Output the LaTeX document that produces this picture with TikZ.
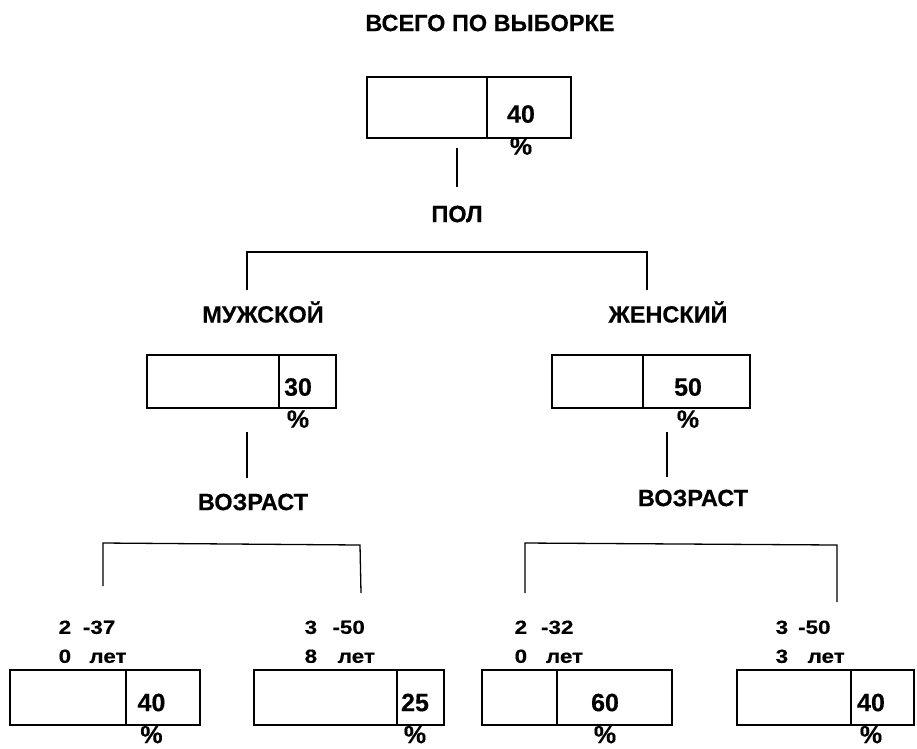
\documentclass[tikz,border=0pt]{standalone}
\usepackage{fontspec}
\usepackage{graphicx}
\setmainfont{Liberation Sans}[BoldFeatures={FakeBold=0.4}]
\begin{document}
\begin{tikzpicture}[x=1pt,y=-1pt,line width=1.3pt,
  cell/.style={draw,inner sep=0pt},
  lbl/.style={font=\fontsize{23.5}{28}\selectfont\bfseries},
  pct/.style={inner sep=0pt,align=center,font=\fontsize{25}{32}\selectfont\bfseries},
  age/.style={anchor=west,inner sep=0pt,font=\fontsize{19}{29}\selectfont\bfseries}]
  \useasboundingbox (0,0) rectangle (917,748);

  \node[lbl] (all) at (490,23) {ВСЕГО ПО ВЫБОРКЕ};
  \node[cell,minimum width=120,minimum height=61] (t1) at (427,107.5) {};
  \node[cell,minimum width=84,minimum height=61] (t2) at (529,107.5) {};
  \node[pct] (tp) at (521,130) {40\\\%};

  \coordinate (v0a) at (457,148);
  \coordinate (v0b) at (457,187);
  \draw (v0a) -- (v0b);
  \node[lbl] (pol) at (457,214) {ПОЛ};

  \coordinate (s1) at (247,290);
  \coordinate (s2) at (247,252);
  \coordinate (s3) at (647,252);
  \coordinate (s4) at (647,290);
  \draw (s1) -- (s2) -- (s3) -- (s4);

  \node[lbl] (male) at (263,312) {МУЖСКОЙ};
  \node[lbl] (female) at (668,312) {ЖЕНСКИЙ};

  \node[cell,minimum width=132,minimum height=53] (m1) at (213,381.5) {};
  \node[cell,minimum width=57,minimum height=53] (m2) at (307.5,381.5) {};
  \node[pct] (mp) at (298,403) {30\\\%};
  \node[cell,minimum width=91,minimum height=53] (f1) at (597.5,381.5) {};
  \node[cell,minimum width=107,minimum height=53] (f2) at (696.5,381.5) {};
  \node[pct] (fp) at (688,403) {50\\\%};

  \coordinate (vma) at (247,432);
  \coordinate (vmb) at (247,478);
  \draw (vma) -- (vmb);
  \coordinate (vfa) at (667,432);
  \coordinate (vfb) at (667,477);
  \draw (vfa) -- (vfb);
  \node[lbl] (mage) at (253,502) {ВОЗРАСТ};
  \node[lbl] (fage) at (693,498) {ВОЗРАСТ};

  \coordinate (ma1) at (103,586);
  \coordinate (ma2) at (103,543);
  \coordinate (ma3) at (360,545);
  \coordinate (ma4) at (361,593);
  \draw (ma1) -- (ma2) -- (ma3) -- (ma4);
  \coordinate (fa1) at (525,593);
  \coordinate (fa2) at (525,543);
  \coordinate (fa3) at (837,545);
  \coordinate (fa4) at (837,602);
  \draw (fa1) -- (fa2) -- (fa3) -- (fa4);

  % age groups
  \node[age] (g1) at (58,642.5) {\scalebox{1.18}[1]{\begin{tabular}{@{}l@{\hspace{10pt}}l@{}}2&-37\\0&\hspace{5.5pt}лет\end{tabular}}};
  \node[age] (g2) at (304,642.5) {\scalebox{1.18}[1]{\begin{tabular}{@{}l@{\hspace{13pt}}l@{}}3&-50\\8&\hspace{4.5pt}лет\end{tabular}}};
  \node[age] (g3) at (514,642.5) {\scalebox{1.18}[1]{\begin{tabular}{@{}l@{\hspace{11.8pt}}l@{}}2&-32\\0&\hspace{4.2pt}лет\end{tabular}}};
  \node[age] (g4) at (775,642.5) {\scalebox{1.18}[1]{\begin{tabular}{@{}l@{\hspace{8.5pt}}l@{}}3&-50\\3&\hspace{8pt}лет\end{tabular}}};

  \node[cell,minimum width=116,minimum height=55] (b1) at (68,697.5) {};
  \node[cell,minimum width=74,minimum height=55] (b1r) at (163,697.5) {};
  \node[pct] (bp1) at (151.5,718.5) {40\\\%};
  \node[cell,minimum width=143,minimum height=55] (b2) at (325.5,697.5) {};
  \node[cell,minimum width=47,minimum height=55] (b2r) at (420.5,697.5) {};
  \node[pct] (bp2) at (415,718.5) {25\\\%};
  \node[cell,minimum width=75,minimum height=55] (b3) at (519.5,697.5) {};
  \node[cell,minimum width=115,minimum height=55] (b3r) at (614.5,697.5) {};
  \node[pct] (bp3) at (605,718.5) {60\\\%};
  \node[cell,minimum width=114,minimum height=55] (b4) at (794,697.5) {};
  \node[cell,minimum width=63,minimum height=55] (b4r) at (882.5,697.5) {};
  \node[pct] (bp4) at (871,718.5) {40\\\%};
\end{tikzpicture}
\end{document}
